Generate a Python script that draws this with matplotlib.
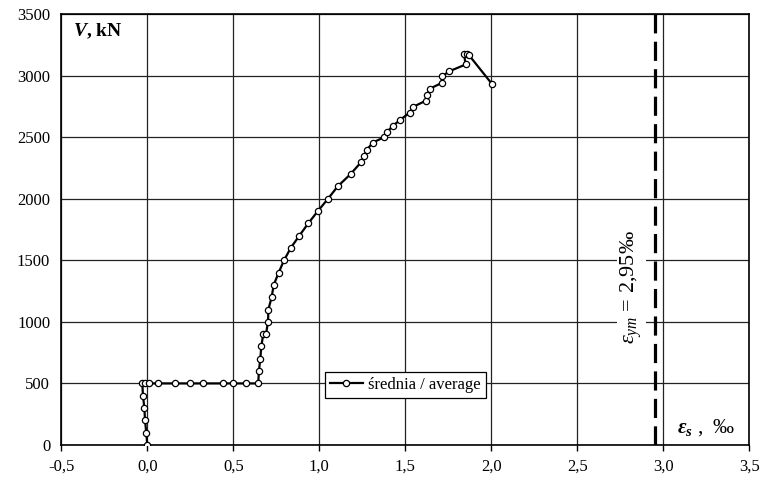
import matplotlib.pyplot as plt
import numpy as np
from matplotlib.ticker import FuncFormatter, MultipleLocator

plt.rcParams['font.family'] = ['Liberation Serif', 'DejaVu Serif']
plt.rcParams['mathtext.fontset'] = 'custom'
plt.rcParams['mathtext.rm'] = 'Liberation Serif'
plt.rcParams['mathtext.it'] = 'Liberation Serif:italic'
plt.rcParams['mathtext.bf'] = 'Liberation Serif:italic:bold'

# odkształcenie stali [‰] i siła V [kN] – średnia
eps = [0.0, -0.006, -0.013, -0.017, -0.025, -0.029, -0.012, 0.008, 0.064, 0.161,
       0.25, 0.326, 0.44, 0.498, 0.574, 0.645, 0.649, 0.657, 0.663, 0.674,
       0.69, 0.702, 0.704, 0.723, 0.735, 0.764, 0.795, 0.834, 0.884, 0.936,
       0.992, 1.051, 1.107, 1.182, 1.242, 1.26, 1.276, 1.31, 1.378, 1.392,
       1.427, 1.467, 1.527, 1.547, 1.62, 1.628, 1.642, 1.712, 1.713, 1.756,
       1.851, 1.841, 1.857, 1.87, 2.002]
V = [0, 100, 200, 300, 400, 500, 500, 500, 500, 500,
     500, 500, 500, 500, 500, 500, 600, 700, 800, 900,
     900, 1000, 1100, 1200, 1300, 1400, 1500, 1600, 1700, 1800,
     1900, 2000, 2100, 2200, 2295, 2345, 2395, 2455, 2500, 2540,
     2590, 2637, 2700, 2747, 2796, 2842, 2893, 2940, 2993, 3035,
     3090, 3174, 3179, 3166, 2935]

eps_ym = 2.95

fig = plt.figure(figsize=(7.65, 4.84), dpi=100)
ax = fig.add_axes([0.0801, 0.0806, 0.8994, 0.8905])

ax.plot(eps, V, '-o', color='black', lw=1.6, ms=4.5,
        mfc='white', mec='black', mew=0.9, label='średnia / average', zorder=3)

ax.axvline(eps_ym, color='black', lw=2.3, dashes=(6, 2.6), zorder=3)
ax.text(2.815, 1285, r'$\varepsilon_{ym}$ = 2,95‰', rotation=90,
        ha='center', va='center', fontsize=16,
        bbox=dict(facecolor='white', edgecolor='none', pad=1), zorder=2)

ax.text(-0.43, 3360, r'$\mathbf{V}$, kN', fontsize=14, fontweight='bold',
        ha='left', va='center')
ax.text(3.08, 140, r'$\mathbf{\varepsilon}_{\mathbf{s}}$ ,  ‰', fontsize=15,
        ha='left', va='center')

ax.set_xlim(-0.5, 3.5)
ax.set_ylim(0, 3500)
ax.xaxis.set_major_locator(MultipleLocator(0.5))
ax.yaxis.set_major_locator(MultipleLocator(500))
ax.xaxis.set_major_formatter(FuncFormatter(lambda v, p: f'{v:.1f}'.replace('.', ',')))
ax.yaxis.set_major_formatter(FuncFormatter(lambda v, p: f'{v:.0f}'))
ax.tick_params(axis='x', direction='out', length=4, width=1, labelsize=12, pad=6)
ax.tick_params(axis='y', length=0, labelsize=12, pad=8)
ax.grid(True, color='#222222', lw=0.9, zorder=0)
ax.set_axisbelow(True)
for s in ax.spines.values():
    s.set_color('black')
    s.set_linewidth(1.2)

leg = ax.legend(loc='center', bbox_to_anchor=(1.5, 486),
                bbox_transform=ax.transData, fontsize=12, fancybox=False,
                framealpha=1, edgecolor='black', handlelength=2.0,
                borderpad=0.3, handletextpad=0.3, borderaxespad=0)
leg.get_frame().set_linewidth(0.9)

plt.savefig('out.png', dpi=100)
